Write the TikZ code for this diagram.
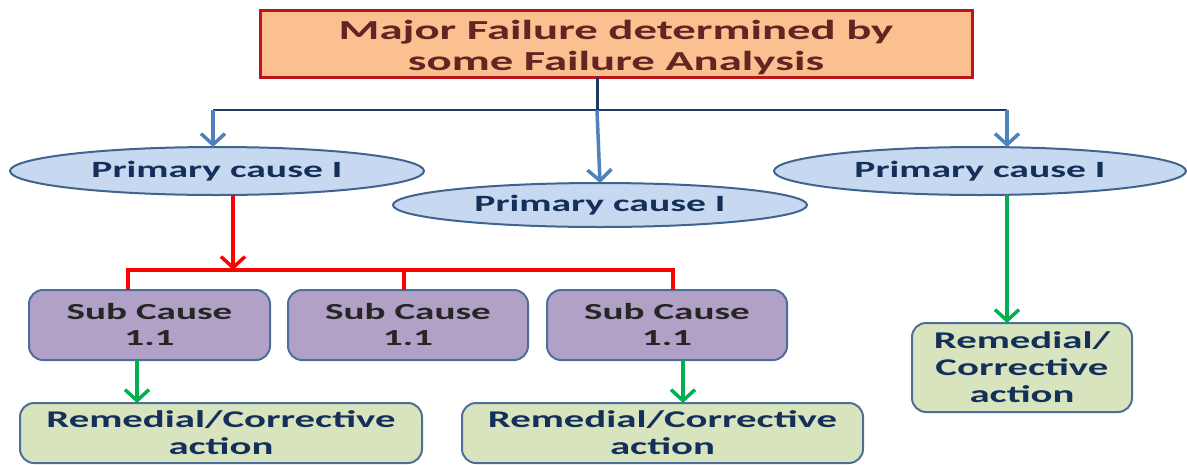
\documentclass[tikz,border=0pt]{standalone}
\usepackage{fontspec}
\usetikzlibrary{shapes.geometric,arrows.meta}
\newfontfamily\diagfont{Carlito}[FakeStretch=1.7]

\definecolor{topfill}{HTML}{FAC090}
\definecolor{topedge}{HTML}{C0141B}
\definecolor{toptext}{HTML}{632523}
\definecolor{ellfill}{HTML}{C6D9F1}
\definecolor{elledge}{HTML}{41648F}
\definecolor{navytext}{HTML}{14305A}
\definecolor{subfill}{HTML}{B2A1C7}
\definecolor{subtext}{HTML}{262626}
\definecolor{boxedge}{HTML}{4E6E9A}
\definecolor{remfill}{HTML}{D7E4BD}
\definecolor{navyline}{HTML}{1F3864}
\definecolor{bluearrow}{HTML}{4F81BD}
\definecolor{redline}{HTML}{FF0000}
\definecolor{greenarrow}{HTML}{00B050}

\begin{document}
\begin{tikzpicture}[x=1pt,y=-1pt,
  every node/.style={inner sep=0pt, outer sep=0pt},
  titlebox/.style={rectangle, draw=topedge, line width=3pt, fill=topfill,
    minimum width=712pt, minimum height=67pt, text=toptext, align=center,
    font=\diagfont\bfseries\fontsize{27.5}{31}\selectfont},
  causeell/.style={ellipse, draw=elledge, line width=2pt, fill=ellfill,
    minimum width=414pt, minimum height=48pt, text=navytext,
    font=\diagfont\bfseries\fontsize{23.3}{26}\selectfont},
  subbox/.style={rectangle, rounded corners=14pt, draw=boxedge, line width=2pt,
    fill=subfill, minimum width=240pt, minimum height=70pt, text=subtext,
    align=center, font=\diagfont\bfseries\fontsize{23}{26}\selectfont},
  rembox/.style={rectangle, rounded corners=14pt, draw=boxedge, line width=2pt,
    fill=remfill, text=navytext, align=center,
    font=\diagfont\bfseries\fontsize{24}{27}\selectfont},
  barbtip/.style={-{Straight Barb[length=11pt,width=24pt]}},
  bluearr/.style={barbtip, draw=bluearrow, line width=3.5pt},
  redarr/.style={barbtip, draw=redline, line width=3.5pt},
  greenarr/.style={barbtip, draw=greenarrow, line width=3.5pt},
  redbus/.style={draw=redline, line width=3.5pt},
]
\useasboundingbox (0,0) rectangle (1187,464);

% top statement (the strut lowers the two lines a little inside the box)
\node[titlebox] (top) at (616,43.5) {\rule{0pt}{28pt}Major Failure determined by\\some Failure Analysis};

% primary causes
\node[causeell] (ellL) at (217,171) {Primary cause I};
\node[causeell, minimum height=44pt] (ellM) at (600,205) {Primary cause I};
\node[causeell, minimum width=412pt] (ellR) at (980,171) {Primary cause I};

% sub causes
\node[subbox, minimum width=241pt] (sub1) at (149.5,325) {Sub Cause\\1.1};
\node[subbox] (sub2) at (408,325) {Sub Cause\\1.1};
\node[subbox] (sub3) at (667,325) {Sub Cause\\1.1};

% remedial actions
\node[rembox, minimum width=402pt, minimum height=60pt] (rem1) at (221,433) {Remedial/Corrective\\action};
\node[rembox, minimum width=401pt, minimum height=60pt] (rem2) at (662.5,433) {Remedial/Corrective\\action};
\node[rembox, minimum width=220pt, minimum height=89pt] (rem3) at (1022,367.5) {Remedial/\\Corrective\\action};

% junction points
\coordinate (hub) at (597,110);
\coordinate (busL) at (213,110);
\coordinate (busR) at (1007,110);
\coordinate (redIn) at (233,270);
\coordinate (redL) at (128,270);
\coordinate (redMid) at (404,270);
\coordinate (redR) at (673,270);
\coordinate (gR) at (1007,0);

% distribution from the top statement
\draw[navyline, line width=3pt] (top.south -| hub) -- (hub);
\draw[navyline, line width=2pt] (busL) -- (busR);
\draw[bluearr] (busL) -- (busL |- ellL.north);
\draw[bluearr] (hub) -- (ellM.north);
\draw[bluearr] (busR) -- (busR |- ellR.north);

% first primary cause to its sub causes
\draw[redarr] (ellL.south -| redIn) -- (redIn);
\draw[redbus] (redL |- sub1.north) -- (redL) -- (redR) -- (redR |- sub3.north);
\draw[redbus] (redMid) -- (redMid |- sub2.north);

% corrective actions
\draw[greenarr] ([xshift=-12.5pt]sub1.south) -- ([xshift=-12.5pt]sub1.south |- rem1.north);
\draw[greenarr] ([xshift=16pt]sub3.south) -- ([xshift=16pt]sub3.south |- rem2.north);
\draw[greenarr] (ellR.south -| gR) -- (rem3.north -| gR);
\end{tikzpicture}
\end{document}
